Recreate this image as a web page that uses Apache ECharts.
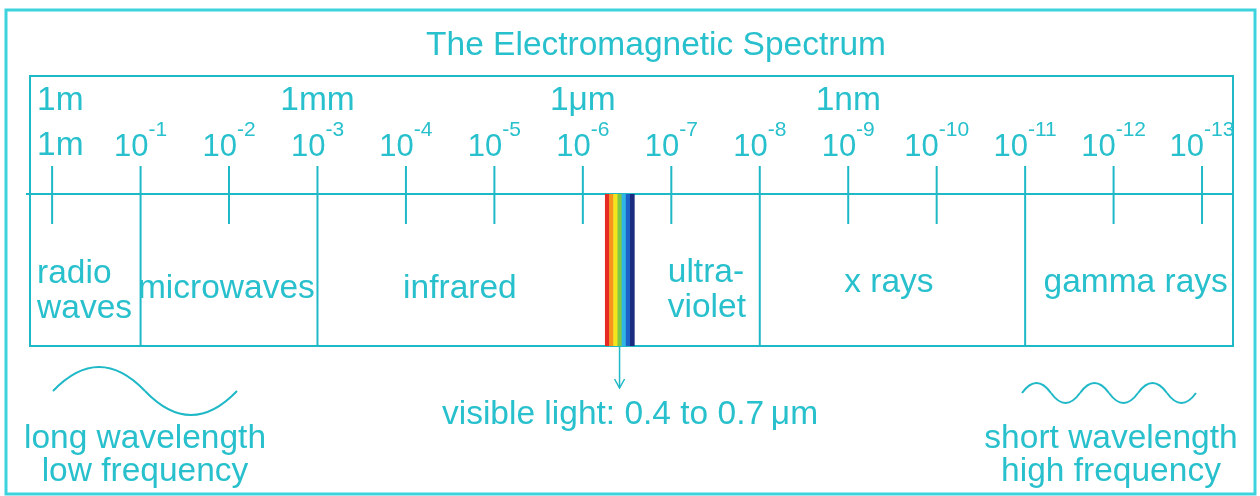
<!DOCTYPE html>
<html lang="en">
<head>
<meta charset="utf-8">
<title>The Electromagnetic Spectrum</title>
<script src="https://cdn.jsdelivr.net/npm/echarts@6/dist/echarts.min.js"></script>
<style>
    html, body { margin: 0; padding: 0; background: #fff; }
    #main { width: 1260px; height: 496px; }
</style>
</head>
<body>
<div id="main"></div>
<script>
    // scale position n = wavelength 10^-n metres
    var exponents = [0, 1, 2, 3, 4, 5, 6, 7, 8, 9, 10, 11, 12, 13];
    var tickLabels = ['1m', '10{s|-1}', '10{s|-2}', '10{s|-3}', '10{s|-4}', '10{s|-5}', '10{s|-6}',
        '10{s|-7}', '10{s|-8}', '10{s|-9}', '10{s|-10}', '10{s|-11}', '10{s|-12}', '10{s|-13}'];
    var unitAt = [0, 3, 6, 9];
    var unitLabels = ['1m', '1mm', '1\u03bcm', '1nm'];
    // ticks that run down as band borders
    var boundaries = [1, 3, 8, 11];
    var bandNames = ['radio\nwaves', 'microwaves', 'infrared', 'ultra-\nviolet', 'x rays', 'gamma rays'];
    var bandLabelAt = [-0.17, 1.97, 4.61, 6.96, 9.46, 12.25];
    // visible strip on the scale (schematic, as drawn)
    var visibleRange = [6.25, 6.58];
    var visibleColors = ['#e52a24', '#f7941d', '#f3e41c', '#7dc847', '#2fb6e6', '#1e62c8', '#1b2b80'];

    // layout (pixels)
    var LINE = '#1fb8c7', TEXT = '#27c0cc', FONT = '"Liberation Sans", Arial, sans-serif';
    var FS = 33.5;
    var tickTop = 166, tickBottom = 224, axisY = 194, boxTop = 76, boxBottom = 346;
    var bandLabelY = [291, 289, 289, 290, 283, 283];
    var bandLabelAlign = ['left', 'center', 'center', 'left', 'center', 'center'];

    var myChart = echarts.init(document.getElementById('main'));

    function waveSegments(x0, y0, half, amp, count) {
        var out = [];
        for (var i = 0; i < count; i++) {
            var dir = i % 2 === 0 ? -1 : 1;
            out.push({
                type: 'bezierCurve',
                shape: {
                    x1: x0 + i * half, y1: y0,
                    cpx1: x0 + (i + 0.5) * half, cpy1: y0 + dir * amp * 2,
                    x2: x0 + (i + 1) * half, y2: y0
                },
                style: {stroke: LINE, lineWidth: 2, fill: null},
                silent: true
            });
        }
        return out;
    }

    var graphics = [
        {type: 'rect', shape: {x: 6, y: 10, width: 1249, height: 484},
            style: {stroke: '#3dd3de', lineWidth: 3, fill: null}, silent: true},
        {type: 'rect', shape: {x: 30, y: boxTop, width: 1203, height: boxBottom - boxTop},
            style: {stroke: LINE, lineWidth: 2, fill: null}, silent: true},
        {type: 'line', shape: {x1: 26, y1: axisY, x2: 1232, y2: axisY},
            style: {stroke: LINE, lineWidth: 2}, silent: true},
        {type: 'text', x: 630, y: 415, silent: true,
            style: {text: 'visible light: 0.4 to 0.7\u2009\u03bcm', fill: TEXT, font: FS + 'px ' + FONT,
                align: 'center', verticalAlign: 'middle'}},
        {type: 'text', x: 145, y: 455, silent: true,
            style: {text: 'long wavelength\nlow frequency', fill: TEXT, font: FS + 'px ' + FONT,
                lineHeight: 33, align: 'center', verticalAlign: 'middle'}},
        {type: 'text', x: 1111, y: 455, silent: true,
            style: {text: 'short wavelength\nhigh frequency', fill: TEXT, font: FS + 'px ' + FONT,
                lineHeight: 33, align: 'center', verticalAlign: 'middle'}}
    ].concat(waveSegments(53, 391, 92, 24, 2), waveSegments(1022, 393, 29, 10, 6));

    var option = {
        animation: false,
        title: {
            text: 'The Electromagnetic Spectrum',
            left: 651, top: 24, textAlign: 'center',
            textStyle: {color: TEXT, fontSize: FS, fontWeight: 'normal', fontFamily: FONT}
        },
        grid: {left: 30, right: 27, top: boxTop, bottom: 496 - boxBottom},
        xAxis: {type: 'value', min: -0.25, max: 13.35, show: false},
        yAxis: {type: 'value', min: 0, max: 1, show: false},
        graphic: graphics,
        series: [
            {
                // ticks
                type: 'custom', silent: true,
                data: exponents.map(function (n) { return [n, boundaries.indexOf(n) >= 0 ? 1 : 0]; }),
                renderItem: function (params, api) {
                    var x = api.coord([api.value(0), 0])[0];
                    return {
                        type: 'line',
                        shape: {x1: x, y1: tickTop, x2: x, y2: api.value(1) ? boxBottom : tickBottom},
                        style: {stroke: LINE, lineWidth: 2}
                    };
                }
            },
            {
                // tick labels
                type: 'custom', silent: true,
                data: exponents.map(function (n) { return [n]; }),
                renderItem: function (params, api) {
                    var x = api.coord([api.value(0), 0])[0];
                    var first = params.dataIndex === 0;
                    return {
                        type: 'text', x: first ? x - 15 : x, y: first ? 146 : 147,
                        style: {
                            text: tickLabels[params.dataIndex],
                            fill: TEXT, fontSize: first ? FS : 31, fontFamily: FONT, lineHeight: first ? 36 : 54,
                            align: first ? 'left' : 'center', verticalAlign: 'middle',
                            rich: {s: {fontSize: 21, lineHeight: 21, verticalAlign: 'top', fill: TEXT, fontFamily: FONT}}
                        }
                    };
                }
            },
            {
                // unit labels
                type: 'custom', silent: true,
                data: unitAt.map(function (n) { return [n]; }),
                renderItem: function (params, api) {
                    var x = api.coord([api.value(0), 0])[0];
                    var first = params.dataIndex === 0;
                    return {
                        type: 'text', x: first ? x - 15 : x, y: 101,
                        style: {
                            text: unitLabels[params.dataIndex], fill: TEXT, fontSize: FS, fontFamily: FONT,
                            align: first ? 'left' : 'center', verticalAlign: 'middle'
                        }
                    };
                }
            },
            {
                // band names
                type: 'custom', silent: true,
                data: bandLabelAt.map(function (n) { return [n]; }),
                renderItem: function (params, api) {
                    var i = params.dataIndex;
                    var x = api.coord([api.value(0), 0])[0];
                    return {
                        type: 'text', x: x, y: bandLabelY[i],
                        style: {
                            text: bandNames[i], fill: TEXT, fontSize: FS, fontFamily: FONT, lineHeight: 35,
                            align: bandLabelAlign[i], verticalAlign: 'middle'
                        }
                    };
                }
            },
            {
                // visible light strip and arrow
                type: 'custom', silent: true,
                data: [visibleRange],
                renderItem: function (params, api) {
                    var x0 = api.coord([api.value(0), 0])[0];
                    var x1 = api.coord([api.value(1), 0])[0];
                    var w = (x1 - x0) / visibleColors.length;
                    var kids = visibleColors.map(function (c, k) {
                        return {type: 'rect', shape: {x: x0 + k * w, y: axisY, width: w + 0.5, height: boxBottom - axisY},
                            style: {fill: c}};
                    });
                    var xm = (x0 + x1) / 2;
                    kids.push({type: 'line', shape: {x1: xm, y1: boxBottom, x2: xm, y2: 388},
                        style: {stroke: LINE, lineWidth: 1.5}});
                    kids.push({type: 'polyline', shape: {points: [[xm - 5, 379], [xm, 388], [xm + 5, 379]]},
                        style: {stroke: LINE, lineWidth: 1.5, fill: null}});
                    return {type: 'group', children: kids};
                }
            }
        ]
    };
    myChart.setOption(option);
</script>
</body>
</html>
